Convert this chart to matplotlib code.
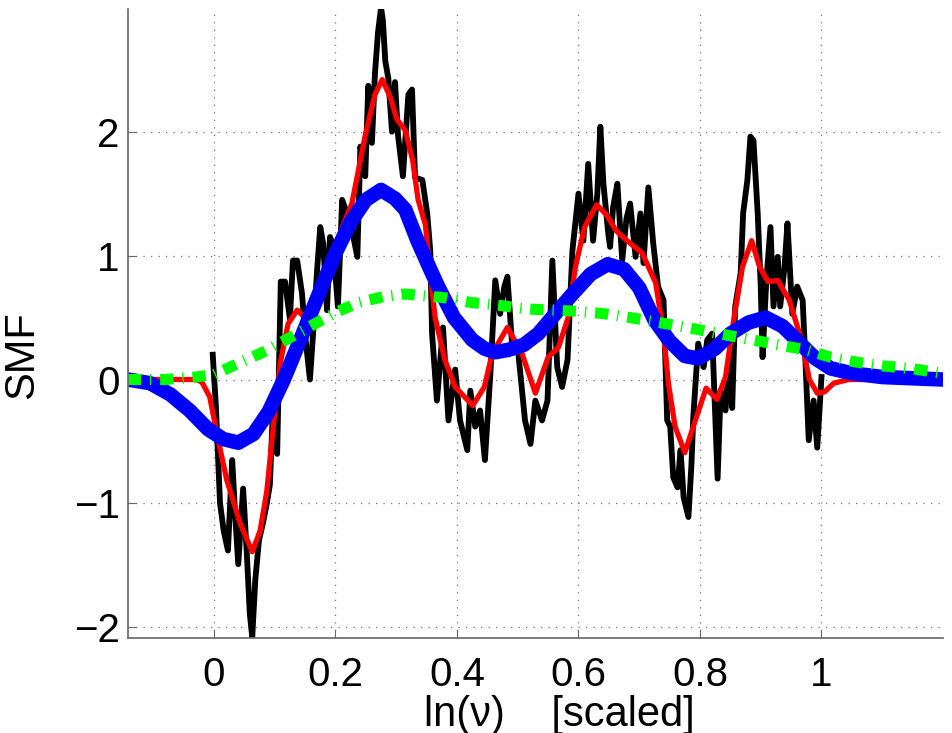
import numpy as np
import matplotlib.pyplot as plt

plt.rcParams['font.family'] = ['Liberation Sans', 'DejaVu Sans']

# noisy measured SMF (black)
x_raw = [-0.002, 0.003, 0.010, 0.016, 0.023, 0.030, 0.035, 0.040, 0.048, 0.054,
         0.059, 0.063, 0.068, 0.074, 0.081, 0.087, 0.092, 0.097, 0.104, 0.107,
         0.110, 0.117, 0.125, 0.130, 0.137, 0.145, 0.150, 0.158, 0.163, 0.170,
         0.175, 0.180, 0.186, 0.191, 0.196, 0.204, 0.211, 0.216, 0.227, 0.236,
         0.241, 0.249, 0.254, 0.260, 0.265, 0.270, 0.275, 0.278, 0.282, 0.287,
         0.293, 0.298, 0.303, 0.311, 0.320, 0.326, 0.331, 0.343, 0.351, 0.356,
         0.359, 0.367, 0.377, 0.386, 0.397, 0.405, 0.417, 0.422, 0.430, 0.438,
         0.446, 0.455, 0.463, 0.471, 0.478, 0.483, 0.491, 0.501, 0.512, 0.521,
         0.529, 0.540, 0.549, 0.557, 0.565, 0.573, 0.582, 0.590, 0.600, 0.608,
         0.616, 0.624, 0.631, 0.636, 0.641, 0.649, 0.652, 0.657, 0.664, 0.672,
         0.679, 0.685, 0.694, 0.702, 0.707, 0.715, 0.723, 0.731, 0.740, 0.746,
         0.751, 0.756, 0.763, 0.768, 0.773, 0.781, 0.786, 0.789, 0.797, 0.806,
         0.812, 0.820, 0.829, 0.834, 0.842, 0.848, 0.853, 0.858, 0.867, 0.871,
         0.878, 0.883, 0.888, 0.895, 0.900, 0.903, 0.909, 0.916, 0.921, 0.928,
         0.932, 0.939, 0.944, 0.952, 0.960, 0.969, 0.974, 0.979, 0.987, 0.993,
         1.000]
y_raw = [0.20, -0.20, -1.00, -1.22, -1.38, -0.65, -1.10, -1.49, -0.88, -1.40,
         -1.89, -2.08, -1.62, -1.30, -1.15, -1.00, -0.85, -0.25, -0.60, 0.10,
         0.79, 0.79, 0.49, 0.96, 0.96, 0.69, 0.36, 0.00, 0.36, 0.90,
         1.23, 1.09, 0.56, 1.15, 1.09, 0.59, 1.45, 1.38, 1.21, 0.99,
         1.88, 1.64, 2.37, 1.91, 2.47, 2.80, 3.00, 2.90, 2.57, 2.43,
         2.00, 2.40, 1.97, 1.64, 2.30, 2.34, 1.63, 1.61, 1.34, 1.04,
         0.37, -0.17, 0.42, -0.33, 0.08, -0.33, -0.57, -0.09, -0.38, -0.25,
         -0.65, 0.05, 0.80, 0.53, 0.75, 0.83, 0.26, 0.21, -0.33, -0.52,
         -0.17, -0.33, -0.17, 0.96, 0.10, -0.06, 0.16, 1.04, 1.50, 1.12,
         1.74, 1.12, 1.50, 2.04, 1.58, 1.18, 1.07, 1.39, 1.58, 0.96,
         1.30, 1.42, 0.99, 1.34, 0.94, 1.55, 1.10, 0.75, 0.64, -0.33,
         -0.38, -0.79, -0.87, -0.57, -0.95, -1.11, -0.68, -0.30, 0.29, 0.10,
         0.32, 0.37, -0.80, -0.09, -0.25, 0.16, -0.23, 0.59, 0.86, 1.34,
         1.61, 1.96, 1.93, 1.34, 0.75, 0.18, 0.78, 1.23, 0.59, 0.99,
         0.59, 0.90, 1.26, 0.53, 0.75, 0.64, 0.10, -0.49, -0.17, -0.55,
         0.02]

# fine fit (red)
x_red = [-0.142, -0.03, -0.02, -0.007, 0.007, 0.021, 0.043, 0.063, 0.076, 0.087,
         0.097, 0.109, 0.122, 0.137, 0.150, 0.165, 0.185, 0.205, 0.227, 0.249,
         0.265, 0.277, 0.290, 0.301, 0.315, 0.327, 0.336, 0.348, 0.356, 0.364,
         0.380, 0.397, 0.426, 0.445, 0.458, 0.483, 0.507, 0.529, 0.550, 0.567,
         0.583, 0.595, 0.610, 0.630, 0.646, 0.662, 0.680, 0.705, 0.727, 0.740,
         0.748, 0.759, 0.775, 0.789, 0.810, 0.828, 0.842, 0.856, 0.870, 0.885,
         0.898, 0.912, 0.928, 0.947, 0.967, 0.980, 0.993, 1.005, 1.020, 1.045,
         1.2]
y_red = [0.0, 0.0, -0.02, -0.14, -0.49, -0.81, -1.16, -1.39, -1.22, -0.90,
         -0.41, 0.13, 0.45, 0.56, 0.50, 0.62, 0.85, 1.15, 1.42, 1.97,
         2.30, 2.42, 2.28, 2.10, 2.01, 1.77, 1.45, 1.25, 0.85, 0.50,
         0.16, -0.06, -0.21, -0.06, 0.21, 0.42, 0.21, -0.11, 0.18, 0.26,
         0.50, 0.91, 1.23, 1.41, 1.33, 1.20, 1.12, 1.02, 0.78, 0.37,
         -0.03, -0.38, -0.59, -0.38, -0.07, -0.16, 0.02, 0.50, 0.91, 1.12,
         0.91, 0.79, 0.80, 0.64, 0.32, 0.0, -0.11, -0.10, -0.03, 0.0,
         0.0]

# coarse fit (blue)
x_blue = [-0.142, -0.105, -0.072, -0.040, -0.010, 0.015, 0.040, 0.065, 0.090, 0.115,
          0.142, 0.175, 0.200, 0.225, 0.250, 0.275, 0.298, 0.315, 0.335, 0.355,
          0.369, 0.395, 0.425, 0.445, 0.463, 0.485, 0.510, 0.534, 0.560, 0.590,
          0.620, 0.648, 0.675, 0.700, 0.725, 0.750, 0.775, 0.797, 0.825, 0.850,
          0.880, 0.908, 0.936, 0.965, 0.990, 1.015, 1.05, 1.10, 1.20]
y_blue = [0.0, -0.03, -0.12, -0.25, -0.40, -0.48, -0.51, -0.44, -0.26, 0.0,
          0.32, 0.72, 1.02, 1.27, 1.45, 1.53, 1.46, 1.37, 1.12, 0.90,
          0.75, 0.50, 0.32, 0.25, 0.22, 0.24, 0.28, 0.37, 0.52, 0.69,
          0.85, 0.93, 0.89, 0.74, 0.48, 0.31, 0.19, 0.17, 0.25, 0.37,
          0.46, 0.50, 0.43, 0.29, 0.17, 0.09, 0.05, 0.02, 0.0]

# smoothest fit (green)
x_green = [-0.142, -0.08, -0.03, 0.0, 0.04, 0.085, 0.122, 0.155, 0.2, 0.237,
           0.28, 0.315, 0.38, 0.425, 0.468, 0.512, 0.557, 0.6, 0.644, 0.685,
           0.768, 0.842, 0.929, 0.974, 1.015, 1.058, 1.101, 1.145, 1.2]
y_green = [0.0, 0.0, 0.02, 0.04, 0.13, 0.23, 0.33, 0.42, 0.54, 0.62,
           0.67, 0.69, 0.66, 0.62, 0.60, 0.57, 0.56, 0.55, 0.53, 0.50,
           0.43, 0.36, 0.28, 0.24, 0.18, 0.14, 0.11, 0.09, 0.05]

fig = plt.figure(figsize=(9.53, 7.33), dpi=100)
ax = fig.add_axes([128/953, 1-638/733, 815/953, 629/733])

ax.plot(x_raw, y_raw, color='black', lw=4.2, solid_joinstyle='round')
ax.plot(x_red, y_red, color='#ff0000', lw=3.8, solid_joinstyle='round',
        solid_capstyle='round')
ax.plot(x_blue, y_blue, color='#0000ff', lw=10.5, solid_joinstyle='round')
ax.plot(x_green, y_green, color='#00ff00', lw=8,
        linestyle=(0, (1.2, 0.8, 0.12, 0.8)))

ax.set_xlim(-0.1415, 1.2)
ax.set_ylim(-2.086, 2.99)
ax.set_xticks([0, 0.2, 0.4, 0.6, 0.8, 1])
ax.set_xticklabels(['0', '0.2', '0.4', '0.6', '0.8', '1'])
ax.set_yticks([-2, -1, 0, 1, 2])

ax.grid(True, color='0.45', linestyle=(0, (1, 5)), lw=0.9)
for s in ['top', 'right']:
    ax.spines[s].set_visible(False)
for s in ['left', 'bottom']:
    ax.spines[s].set_color('0.4')
    ax.spines[s].set_linewidth(1.2)
ax.tick_params(axis='both', direction='in', length=6, color='0.4', labelsize=29)
ax.tick_params(axis='x', pad=13)
ax.tick_params(axis='y', pad=6)

ax.set_ylabel('SMF', fontsize=30)
ax.yaxis.set_label_coords(-0.105, 0.45)
ax.set_xlabel('ln(ν)    [scaled]', fontsize=30)
ax.xaxis.set_label_coords(0.529, -0.09)

fig.savefig('out.png', dpi=100)
